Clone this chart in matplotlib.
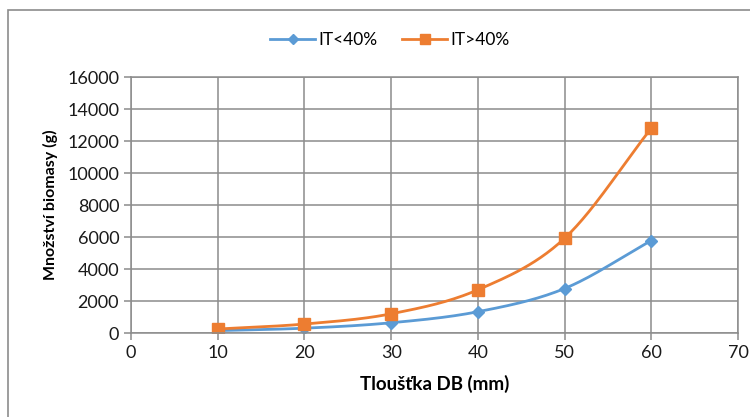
import numpy as np
import matplotlib.pyplot as plt
from matplotlib.patches import Rectangle

thickness = [10, 20, 30, 40, 50, 60]
it_low = [150, 300, 640, 1330, 2780, 5780]
it_high = [250, 560, 1200, 2700, 5920, 12800]
labels = ["IT<40%", "IT>40%"]


def smooth(x, y, n=30):
    # Catmull-Rom style smoothing, like Excel's "smoothed line"
    x = np.asarray(x, float)
    y = np.asarray(y, float)
    px = np.concatenate(([2 * x[0] - x[1]], x, [2 * x[-1] - x[-2]]))
    py = np.concatenate(([2 * y[0] - y[1]], y, [2 * y[-1] - y[-2]]))
    xs, ys = [], []
    t = np.linspace(0, 1, n)
    for i in range(1, len(px) - 2):
        for p, out in ((px, xs), (py, ys)):
            p0, p1, p2, p3 = p[i - 1], p[i], p[i + 1], p[i + 2]
            c1 = p1 + (p2 - p0) / 6
            c2 = p2 - (p3 - p1) / 6
            out.extend((1 - t) ** 3 * p1 + 3 * (1 - t) ** 2 * t * c1
                       + 3 * (1 - t) * t ** 2 * c2 + t ** 3 * p2)
    return np.array(xs), np.array(ys)


def main():
    plt.rcParams['font.family'] = ['Lato', 'DejaVu Sans']
    fig = plt.figure(figsize=(7.5, 4.17), dpi=100)
    fig.patches.append(Rectangle((8 / 750, -0.01), 1.0, 1 - 10 / 417 + 0.01,
                                 transform=fig.transFigure, fill=False,
                                 edgecolor='#8c8c8c', linewidth=1.2))
    ax = fig.add_axes([131 / 750, 84 / 417, 607 / 750, 256 / 417])

    blue = '#5b9bd5'
    orange = '#ed7d31'
    sx, sy = smooth(thickness, it_low)
    ax.plot(sx, sy, color=blue, lw=2)
    ax.plot(thickness, it_low, 'D', color=blue, ms=6, ls='none')
    sx, sy = smooth(thickness, it_high)
    ax.plot(sx, sy, color=orange, lw=2)
    ax.plot(thickness, it_high, 's', color=orange, ms=8, ls='none')

    h1, = ax.plot([], [], color=blue, lw=2, marker='D', ms=5)
    h2, = ax.plot([], [], color=orange, lw=2, marker='s', ms=7)
    fig.legend([h1, h2], labels, loc='center', bbox_to_anchor=(390 / 750, 1 - 40 / 417),
               ncol=2, frameon=False, fontsize=12.5, handlelength=2.6,
               columnspacing=1.4, handletextpad=0.2)

    ax.set_xlim(0, 70)
    ax.set_ylim(0, 16000)
    ax.set_xticks(range(0, 71, 10))
    ax.set_yticks(range(0, 16001, 2000))
    ax.grid(True, color='#8c8c8c', lw=1.1)
    ax.set_axisbelow(True)
    for s in ax.spines.values():
        s.set_color('#8c8c8c')
        s.set_linewidth(1.1)
    ax.tick_params(colors='#8c8c8c', labelcolor='#1a1a1a', labelsize=13,
                   length=5, width=1.1)
    ax.set_xlabel("Tloušťka DB (mm)", fontsize=13.5, fontweight='bold')
    ax.set_ylabel("Množství biomasy (g)", fontsize=11.5, fontweight='bold')
    ax.xaxis.set_label_coords(0.5, -42 / 256)
    ax.yaxis.set_label_coords(-73 / 607, 0.5)

    fig.savefig('out.png', dpi=100)


if __name__ == '__main__':
    main()
